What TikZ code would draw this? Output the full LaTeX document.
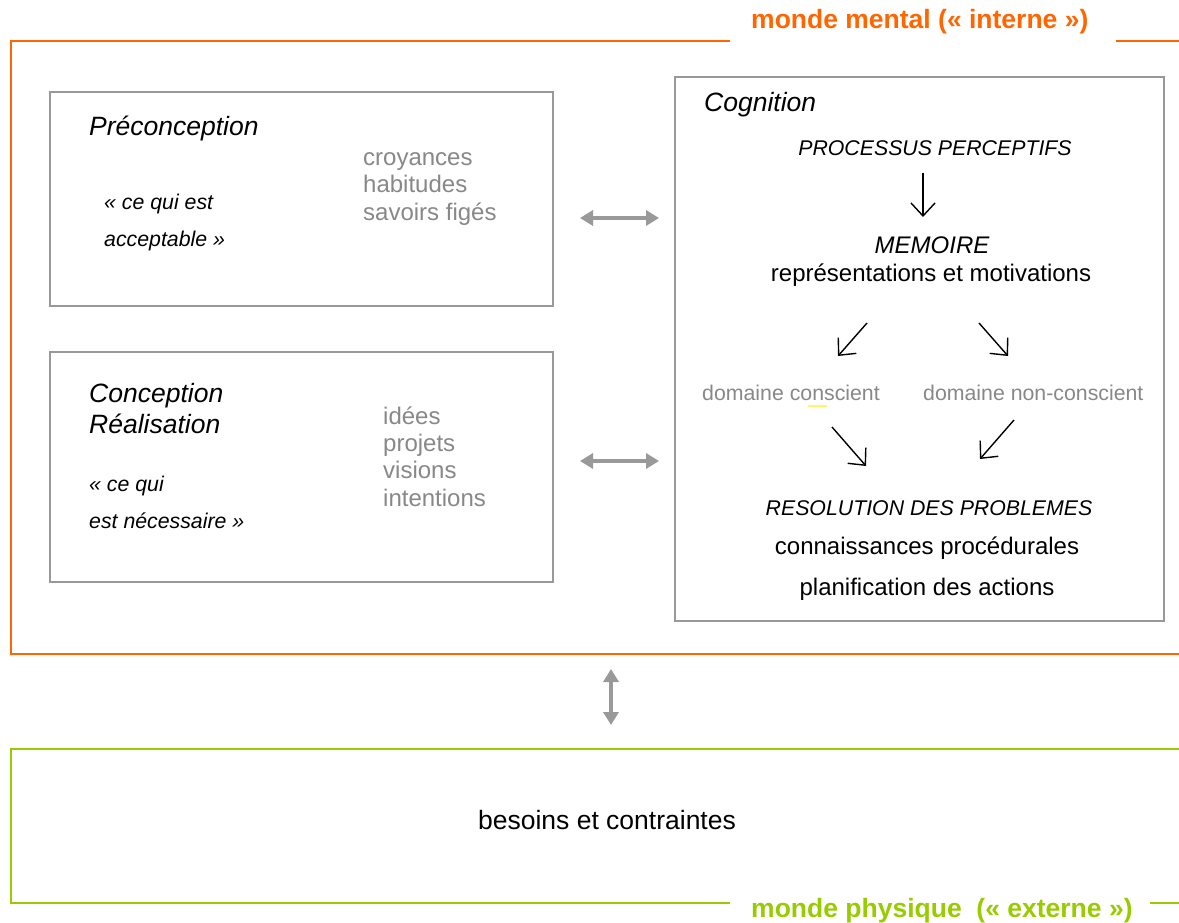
\documentclass[tikz,border=0pt]{standalone}
\usepackage{fontspec}
\setmainfont{Liberation Sans}
\usetikzlibrary{arrows.meta}
\definecolor{orangeM}{HTML}{FF6600}
\definecolor{greenP}{HTML}{99CC00}
\definecolor{boxgray}{HTML}{999999}
\definecolor{txtgray}{HTML}{888888}
\tikzset{
  graybox/.style={draw=boxgray, line width=2pt},
  lbl/.style={inner sep=0pt, anchor=base west},
  clbl/.style={inner sep=0pt, anchor=base},
  big/.style={font=\fontsize{26.5}{30}\selectfont},
  bigi/.style={font=\fontsize{26.5}{30}\selectfont\itshape},
  mid/.style={font=\fontsize{24}{28}\selectfont},
  midi/.style={font=\fontsize{24}{28}\selectfont\itshape},
  sml/.style={font=\fontsize{21.3}{25}\selectfont},
  smli/.style={font=\fontsize{21.3}{25}\selectfont\itshape},
  gtxt/.style={text=txtgray},
  garrow/.style={draw=boxgray, line width=3.5pt, {Triangle[length=13pt,width=15pt]}-{Triangle[length=13pt,width=15pt]}},
  karrow/.style={draw=black, line width=1.4pt, -{Straight Barb[length=13pt,width=24pt,line width=1.4pt]}},
}
\begin{document}
\begin{tikzpicture}[x=1pt,y=-1pt]
\useasboundingbox (0,0) rectangle (1179,923);
\fill[white] (0,0) rectangle (1179,923);
% orange frame
\draw[orangeM, line width=2pt] (730,41) -- (11,41) -- (11,654) -- (1179,654);
\draw[orangeM, line width=2pt] (1116,41) -- (1179,41);
\node[lbl, text=orangeM, font=\bfseries\fontsize{26.5}{30}\selectfont] (mental) at (751,29) {monde mental (« interne »)};
% green frame
\draw[greenP, line width=2pt] (1179,749) -- (11,749) -- (11,903) -- (730,903);
\draw[greenP, line width=2pt] (1150,903) -- (1179,903);
\node[lbl, text=greenP, font=\bfseries\fontsize{26.5}{30}\selectfont] (physique) at (751,917) {monde physique\ \ (« externe »)};
% boxes
\draw[graybox] (50,92) rectangle (553,306);
\draw[graybox] (50,352) rectangle (553,582);
\draw[graybox] (675,77) rectangle (1164,621);
% Preconception box text
\node[lbl, bigi] (precon) at (89,136) {Préconception};
\node[lbl, smli] (acc1) at (104,210) {« ce qui est};
\node[lbl, smli] (acc2) at (104,247) {acceptable »};
\node[lbl, mid, gtxt] (cro) at (363,166) {croyances};
\node[lbl, mid, gtxt] (hab) at (363,193) {habitudes};
\node[lbl, mid, gtxt] (sav) at (363,220) {savoirs figés};
% Conception box text
\node[lbl, bigi] (conc) at (89,402) {Conception};
\node[lbl, bigi] (real) at (89,433) {Réalisation};
\node[lbl, smli] (nec1) at (89,491) {« ce qui};
\node[lbl, smli] (nec2) at (89,528) {est nécessaire »};
\node[lbl, mid, gtxt] (ide) at (383,424) {idées};
\node[lbl, mid, gtxt] (pro) at (383,451) {projets};
\node[lbl, mid, gtxt] (vis) at (383,478) {visions};
\node[lbl, mid, gtxt] (int) at (383,506) {intentions};
% Cognition box text
\node[lbl, bigi] (cog) at (704,112) {Cognition};
\node[clbl, smli] (pp) at (935,156) {PROCESSUS PERCEPTIFS};
\node[clbl, midi] (mem) at (932,254) {MEMOIRE};
\node[clbl, mid] (rep) at (931,281) {représentations et motivations};
\node[lbl, sml, gtxt] (dc) at (702,400) {domaine conscient};
\node[lbl, sml, gtxt] (dnc) at (923,400) {domaine non-conscient};
\draw[yellow!60, line width=1.2pt] (808,406) -- (827,406);
\node[clbl, smli] (res) at (929,515) {RESOLUTION DES PROBLEMES};
\node[clbl, mid] (cp) at (927,554) {connaissances procédurales};
\node[clbl, mid] (pa) at (927,595) {planification des actions};
% black arrows
\coordinate (a1s) at (923,173); \coordinate (a1e) at (923,217);
\draw[karrow] (a1s) -- (a1e);
\coordinate (a2s) at (867,323); \coordinate (a2e) at (838,356);
\draw[karrow] (a2s) -- (a2e);
\coordinate (a3s) at (979,323); \coordinate (a3e) at (1008,356);
\draw[karrow] (a3s) -- (a3e);
\coordinate (a4s) at (832,427); \coordinate (a4e) at (866,466);
\draw[karrow] (a4s) -- (a4e);
\coordinate (a5s) at (1014,420); \coordinate (a5e) at (980,459);
\draw[karrow] (a5s) -- (a5e);
% gray double arrows
\coordinate (g1s) at (580,218); \coordinate (g1e) at (659,218);
\draw[garrow] (g1s) -- (g1e);
\coordinate (g2s) at (580,461); \coordinate (g2e) at (659,461);
\draw[garrow] (g2s) -- (g2e);
\coordinate (g3s) at (611,669); \coordinate (g3e) at (611,725);
\draw[garrow] (g3s) -- (g3e);
% bottom text
\node[clbl, big] (bes) at (607,829) {besoins et contraintes};
\end{tikzpicture}
\end{document}
